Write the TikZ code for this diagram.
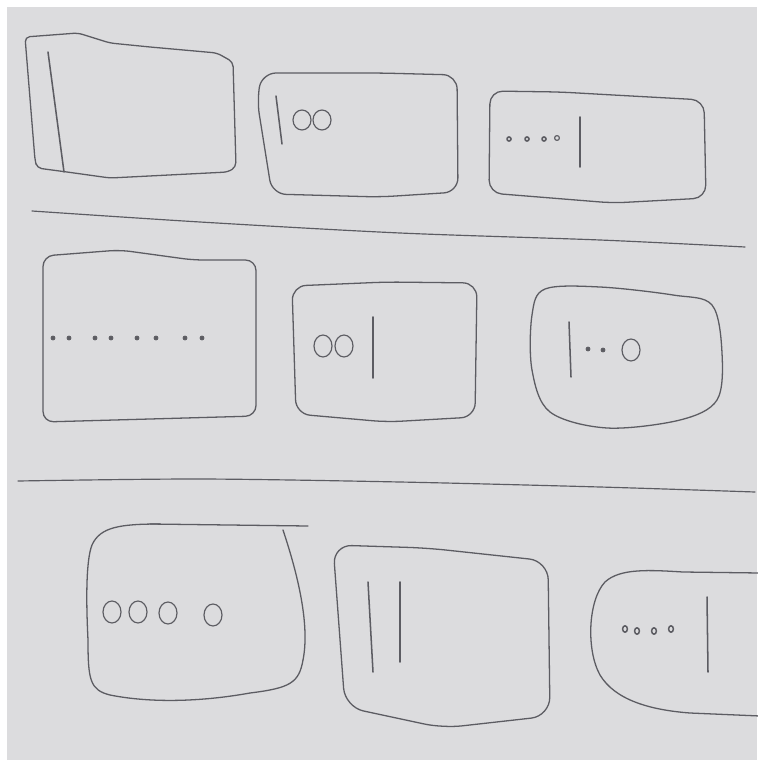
\documentclass[tikz,border=0pt]{standalone}
\usepackage{tikz}
\definecolor{paper}{RGB}{220, 220, 222}
\definecolor{pencil}{RGB}{92, 92, 98}
\begin{document}
\begin{tikzpicture}[
  x=0.03cm, y=-0.03cm,
  pencil/.style={draw=pencil, line width=1.1pt, line join=round, line cap=round},
  frame/.style={pencil, rounded corners=9pt},
  blob/.style={pencil, smooth cycle, tension=0.55},
  divider/.style={pencil, line width=1pt},
  bar/.style={pencil, line width=1.3pt},
  ring/.style={pencil, line width=1pt},
  speck/.style={fill=pencil, draw=pencil, line width=0.6pt}
]
  \useasboundingbox (0,0) rectangle (757,760);
  \fill[white] (0,0) rectangle (757,760);
  \fill[paper] (7,7) rectangle (757,760);

  % first row
  \draw[frame, rounded corners=4pt] (150,47) -- (217,53) -- (233,62)
    -- (236,167) -- (228,172) -- (110,178) -- (67,172) -- (37,168) -- (35,160)
    -- (25,37) -- (78,33) -- (110,43) -- cycle;
  \draw[bar] (48,52) -- (64,172);

  \draw[frame, rounded corners=12pt] (380,73) -- (457,75) -- (458,192) -- (380,197)
    -- (272,194) -- (257,100) -- (262,73) -- cycle;
  \draw[bar] (276,96) -- (282,144);
  \draw[ring] (302,120) ellipse (9 and 10);
  \draw[ring] (322,120) ellipse (9 and 10);

  \draw[frame, rounded corners=11pt] (560,92) -- (613,95) -- (704,100) -- (706,198)
    -- (613,203) -- (489,193) -- (490,91) -- cycle;
  \foreach \dx in {509, 527, 544} \draw[ring, line width=1.4pt] (\dx,139) circle (2);
  \draw[ring] (557,138) circle (2.4);
  \draw[bar] (580,117) -- (580,167);

  \draw[divider] plot[smooth] coordinates {(32,211) (200,222) (400,233) (600,240) (745,247)};

  % second row
  \draw[frame] (150,419) -- (43,422) -- (43,256) -- (120,250) -- (193,260)
    -- (256,260) -- (256,416) -- cycle;
  \foreach \dx in {53, 69, 95, 111, 137, 156, 185, 202} \fill[speck] (\dx,338) circle (2);

  \draw[frame, rounded corners=12pt] (387,282) -- (477,283) -- (475,417) -- (387,422)
    -- (296,414) -- (292,286) -- cycle;
  \draw[ring] (323,346) ellipse (9 and 11);
  \draw[ring] (344,346) ellipse (9 and 11);
  \draw[bar] (373,317) -- (373,378);

  \draw[blob] plot coordinates {(545,289) (600,287) (673,295) (712,305) (722,353) (717,400)
    (680,420) (607,428) (550,412) (532,370) (532,315)};
  \draw[bar] (569,322) -- (571,377);
  \fill[speck] (588,349) circle (2);
  \fill[speck] (603,350) circle (2);
  \draw[ring] (631,350) ellipse (9 and 11);

  \draw[divider] plot[smooth] coordinates {(18,481) (200,479) (400,482) (600,487) (755,492)};

  % third row
  \draw[pencil] (283,530) .. controls (298,575) and (310,625) .. (303,660)
    .. controls (299,683) and (290,688) .. (250,693)
    .. controls (200,702) and (150,703) .. (110,695)
    .. controls (90,690) and (88,680) .. (88,640)
    .. controls (86,600) and (86,560) .. (92,545)
    .. controls (100,527) and (120,524) .. (160,524);
  \draw[pencil] (150,524) -- (308,526);
  \foreach \dx/\dy in {112/612, 138/612, 168/613, 213/615} \draw[ring] (\dx,\dy) ellipse (9 and 11);

  \draw[frame, rounded corners=16pt] (427,548) -- (548,561) -- (550,716) -- (443,728)
    -- (345,707) -- (333,545) -- cycle;
  \draw[bar] (368,582) -- (373,672);
  \draw[bar] (400,582) -- (400,662);

  \draw[pencil] (760,573) -- (683,572) .. controls (650,570) and (620,568) .. (605,582)
    .. controls (588,600) and (586,650) .. (600,675)
    .. controls (615,700) and (650,710) .. (690,713) -- (760,716);
  \foreach \dx/\dy in {625/629, 637/631, 654/631, 671/629} \draw[ring, line width=1.3pt] (\dx,\dy) ellipse (2.4 and 3.2);
  \draw[bar] (707,597) -- (708,672);
\end{tikzpicture}
\end{document}
